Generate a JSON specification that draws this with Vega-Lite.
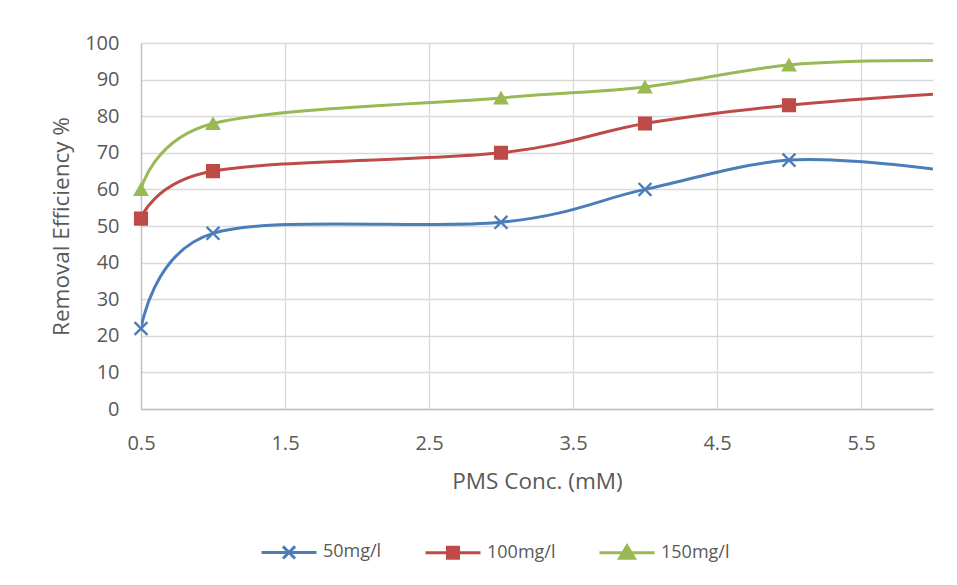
{
  "$schema": "https://vega.github.io/schema/vega-lite/v6.json",
  "width": 792,
  "height": 366,
  "autosize": {"type": "none"},
  "padding": {"left": 141, "top": 43, "right": 24, "bottom": 176},
  "background": "white",
  "config": {
    "view": {"stroke": null},
    "font": "Open Sans",
    "axis": {
      "grid": true,
      "gridColor": "#d9d9d9",
      "gridWidth": 1.3,
      "domainColor": "#bfbfbf",
      "domainWidth": 1.3,
      "ticks": false,
      "labelFont": "Open Sans",
      "labelFontSize": 20,
      "labelColor": "#595959",
      "labelFlush": false,
      "labelOverlap": false,
      "titleFont": "Open Sans",
      "titleFontSize": 22.5,
      "titleFontWeight": "normal",
      "titleColor": "#595959"
    }
  },
  "data": {
    "values": [
      {"series": "50mg/l", "pms": 0.5, "eff": 22},
      {"series": "50mg/l", "pms": 1, "eff": 48},
      {"series": "50mg/l", "pms": 3, "eff": 51},
      {"series": "50mg/l", "pms": 4, "eff": 60},
      {"series": "50mg/l", "pms": 5, "eff": 68},
      {"series": "50mg/l", "pms": 6, "eff": 65.6},
      {"series": "100mg/l", "pms": 0.5, "eff": 52},
      {"series": "100mg/l", "pms": 1, "eff": 65},
      {"series": "100mg/l", "pms": 3, "eff": 70},
      {"series": "100mg/l", "pms": 4, "eff": 78},
      {"series": "100mg/l", "pms": 5, "eff": 83},
      {"series": "100mg/l", "pms": 6, "eff": 86},
      {"series": "150mg/l", "pms": 0.5, "eff": 60},
      {"series": "150mg/l", "pms": 1, "eff": 78},
      {"series": "150mg/l", "pms": 3, "eff": 85},
      {"series": "150mg/l", "pms": 4, "eff": 88},
      {"series": "150mg/l", "pms": 5, "eff": 94},
      {"series": "150mg/l", "pms": 6, "eff": 95.2}
    ]
  },
  "encoding": {
    "x": {
      "field": "pms",
      "type": "quantitative",
      "scale": {"domain": [0.5, 6], "nice": false, "zero": false},
      "axis": {
        "values": [0.5, 1.5, 2.5, 3.5, 4.5, 5.5],
        "format": ".1f",
        "labelPadding": 24,
        "title": "PMS Conc. (mM)",
        "titlePadding": 17
      }
    },
    "y": {
      "field": "eff",
      "type": "quantitative",
      "scale": {"domain": [0, 100], "nice": false},
      "axis": {
        "values": [0, 10, 20, 30, 40, 50, 60, 70, 80, 90, 100],
        "labelPadding": 22,
        "title": "Removal Efficiency %",
        "titlePadding": 11
      }
    }
  },
  "layer": [
    {
      "mark": {"type": "line", "interpolate": "cardinal", "strokeWidth": 3, "clip": true},
      "encoding": {
        "color": {
          "field": "series",
          "type": "nominal",
          "scale": {"domain": ["50mg/l", "100mg/l", "150mg/l"], "range": ["#4a7ebb", "#be4b48", "#98b954"]},
          "legend": {
            "title": null,
            "orient": "none",
            "direction": "horizontal",
            "legendX": 119,
            "legendY": 480,
            "symbolSize": 3025,
            "labelFont": "Open Sans",
            "labelFontSize": 18,
            "labelColor": "#595959",
            "labelOffset": 5,
            "columnPadding": 37,
            "encode": {
              "symbols": {
                "update": {
                  "shape": {"signal": "datum.value === '50mg/l' ? 'M-1,0H1M-0.22,-0.22L0.22,0.22M-0.22,0.22L0.22,-0.22' : datum.value === '100mg/l' ? 'M-1,0H1M-0.2,-0.2H0.2V0.2H-0.2Z' : 'M-1,0H1M0,-0.25L0.27,0.2H-0.27Z'"},
                  "size": {"value": 3025},
                  "stroke": {"signal": "datum.value === '50mg/l' ? '#4a7ebb' : datum.value === '100mg/l' ? '#be4b48' : '#98b954'"},
                  "fill": {"signal": "datum.value === '50mg/l' ? '#4a7ebb' : datum.value === '100mg/l' ? '#be4b48' : '#98b954'"},
                  "strokeWidth": {"value": 3},
                  "opacity": {"value": 1},
                  "fillOpacity": {"value": 1},
                  "strokeOpacity": {"value": 1}
                }
              }
            }
          }
        }
      }
    },
    {
      "transform": [{"filter": "datum.pms <= 5 && datum.series === '50mg/l'"}],
      "mark": {"type": "point", "shape": "M-1,-1L1,1M-1,1L1,-1", "filled": false, "size": 165, "strokeWidth": 2.4, "stroke": "#4a7ebb", "opacity": 1}
    },
    {
      "transform": [{"filter": "datum.pms <= 5 && datum.series === '100mg/l'"}],
      "mark": {"type": "point", "shape": "square", "filled": true, "size": 160, "strokeWidth": 1.5, "fill": "#be4b48", "stroke": "#be4b48", "opacity": 1}
    },
    {
      "transform": [{"filter": "datum.pms <= 5 && datum.series === '150mg/l'"}],
      "mark": {"type": "point", "shape": "triangle-up", "filled": true, "size": 175, "strokeWidth": 1.5, "fill": "#98b954", "stroke": "#98b954", "opacity": 1}
    }
  ]
}
